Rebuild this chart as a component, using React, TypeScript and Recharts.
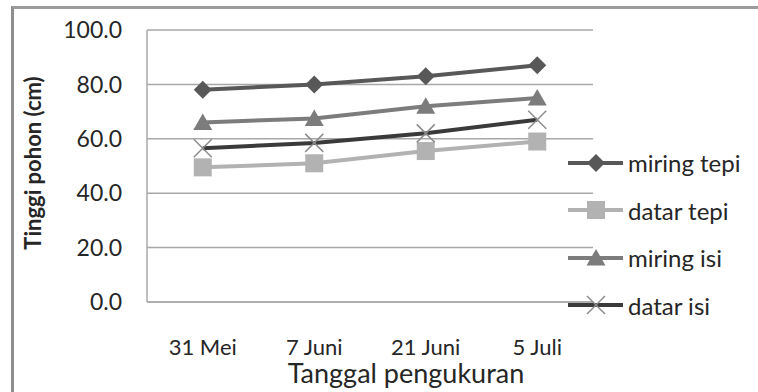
import React from "react";
import { LineChart, Line, XAxis, YAxis, CartesianGrid, Label } from "recharts";

const categories = ["31 Mei", "7 Juni", "21 Juni", "5 Juli"];
const miringTepi = [78, 80, 83, 87];
const datarTepi = [49.5, 51, 55.5, 59];
const miringIsi = [66, 67.5, 72, 75];
const datarIsi = [56.5, 58.5, 62, 67];
const yTicks = [0, 20, 40, 60, 80, 100];

const data = categories.map((c, i) => ({
  name: c,
  miringTepi: miringTepi[i],
  datarTepi: datarTepi[i],
  miringIsi: miringIsi[i],
  datarIsi: datarIsi[i],
}));

const FONT = "Lato, 'Open Sans', sans-serif";

const W = 758;
const H = 392;
const M_TOP = 30;
const M_RIGHT = 165;
const Y_W = 147;
const X_H = 90;

const C_MT = "#585858";
const C_DT = "#b2b2b2";
const C_MI = "#7c7c7c";
const C_DI = "#3a3a3a";
const C_X = "#8a8a8a";

const Diamond = (p: any) => {
  const { cx, cy } = p;
  if (cx == null || cy == null) return null;
  return <polygon points={`${cx},${cy - 9} ${cx + 9},${cy} ${cx},${cy + 9} ${cx - 9},${cy}`} fill={C_MT} />;
};
const Square = (p: any) => {
  const { cx, cy } = p;
  if (cx == null || cy == null) return null;
  return <rect x={cx - 9} y={cy - 9} width={18} height={18} fill={C_DT} />;
};
const Tri = (p: any) => {
  const { cx, cy } = p;
  if (cx == null || cy == null) return null;
  return <polygon points={`${cx},${cy - 9} ${cx + 9.5},${cy + 7.5} ${cx - 9.5},${cy + 7.5}`} fill={C_MI} />;
};
const Cross = (p: any) => {
  const { cx, cy } = p;
  if (cx == null || cy == null) return null;
  return (
    <g stroke={C_X} strokeWidth={1.5}>
      <line x1={cx - 9} y1={cy - 9} x2={cx + 9} y2={cy + 9} />
      <line x1={cx - 9} y1={cy + 9} x2={cx + 9} y2={cy - 9} />
    </g>
  );
};

const legendItems = [
  { name: "miring tepi", color: C_MT, Marker: Diamond },
  { name: "datar tepi", color: C_DT, Marker: Square },
  { name: "miring isi", color: C_MI, Marker: Tri },
  { name: "datar isi", color: C_DI, Marker: Cross },
];

const LegendBox = () => (
  <div style={{ position: "absolute", left: 565, top: 139, fontFamily: FONT }}>
    {legendItems.map(({ name, color, Marker }) => (
      <div key={name} style={{ display: "flex", alignItems: "center", height: 47.5 }}>
        <svg width={60} height={24} style={{ display: "block" }}>
          <line x1={3} y1={12} x2={58} y2={12} stroke={color} strokeWidth={4} />
          <Marker cx={31} cy={12} />
        </svg>
        <span style={{ fontSize: 24, color: "#262626", marginLeft: 3, whiteSpace: "nowrap" }}>{name}</span>
      </div>
    ))}
  </div>
);

export default function App() {
  return (
    <div style={{ position: "absolute", left: 0, top: 0, width: W, height: H, background: "#fff", overflow: "hidden" }}>
      <div
        style={{
          position: "absolute",
          left: 11,
          top: 6,
          width: 800,
          height: 400,
          borderLeft: "3px solid #8e8e8e",
          borderTop: "3px solid #9c9c9c",
        }}
      />
      <div style={{ position: "absolute", left: 0, top: 0 }}>
        <LineChart width={W} height={H} data={data} margin={{ top: M_TOP, right: M_RIGHT, left: 0, bottom: 0 }}>
          <CartesianGrid
            vertical={false}
            stroke="#a8a8a8"
            strokeWidth={1.5}
            x={Y_W}
            width={W - Y_W - M_RIGHT}
            y={M_TOP}
            height={H - M_TOP - X_H}
          />
          <XAxis
            dataKey="name"
            scale="band"
            height={X_H}
            tickLine={false}
            tickSize={0}
            tickMargin={37}
            axisLine={{ stroke: "#a8a8a8", strokeWidth: 1.5 }}
            tick={{ fontSize: 22, fill: "#262626", fontFamily: FONT }}
          >
            <Label
              content={({ viewBox }: any) => (
                <text
                  x={viewBox.x + viewBox.width / 2 + 36}
                  y={viewBox.y + 81}
                  textAnchor="middle"
                  fontSize={27}
                  fill="#262626"
                  fontFamily={FONT}
                >
                  Tanggal pengukuran
                </text>
              )}
            />
          </XAxis>
          <YAxis
            width={Y_W}
            domain={[0, 100]}
            ticks={yTicks}
            tickFormatter={(v: number) => v.toFixed(1)}
            tickLine={false}
            tickSize={0}
            tickMargin={25}
            axisLine={{ stroke: "#a8a8a8", strokeWidth: 1.5 }}
            tick={{ fontSize: 23, fill: "#262626", fontFamily: FONT }}
            interval={0}
          >
            <Label
              content={({ viewBox }: any) => (
                <text
                  x={32}
                  y={viewBox.y + viewBox.height / 2 - 3}
                  textAnchor="middle"
                  dominantBaseline="central"
                  transform={`rotate(-90, 32, ${viewBox.y + viewBox.height / 2 - 3})`}
                  fontSize={22}
                  fontWeight="bold"
                  fill="#262626"
                  fontFamily={FONT}
                >
                  Tinggi pohon (cm)
                </text>
              )}
            />
          </YAxis>
          <Line dataKey="miringTepi" name="miring tepi" stroke={C_MT} strokeWidth={4} dot={<Diamond />} activeDot={false} isAnimationActive={false} />
          <Line dataKey="datarTepi" name="datar tepi" stroke={C_DT} strokeWidth={4} dot={<Square />} activeDot={false} isAnimationActive={false} />
          <Line dataKey="miringIsi" name="miring isi" stroke={C_MI} strokeWidth={4} dot={<Tri />} activeDot={false} isAnimationActive={false} />
          <Line dataKey="datarIsi" name="datar isi" stroke={C_DI} strokeWidth={4} dot={<Cross />} activeDot={false} isAnimationActive={false} />
        </LineChart>
      </div>
      <LegendBox />
    </div>
  );
}
